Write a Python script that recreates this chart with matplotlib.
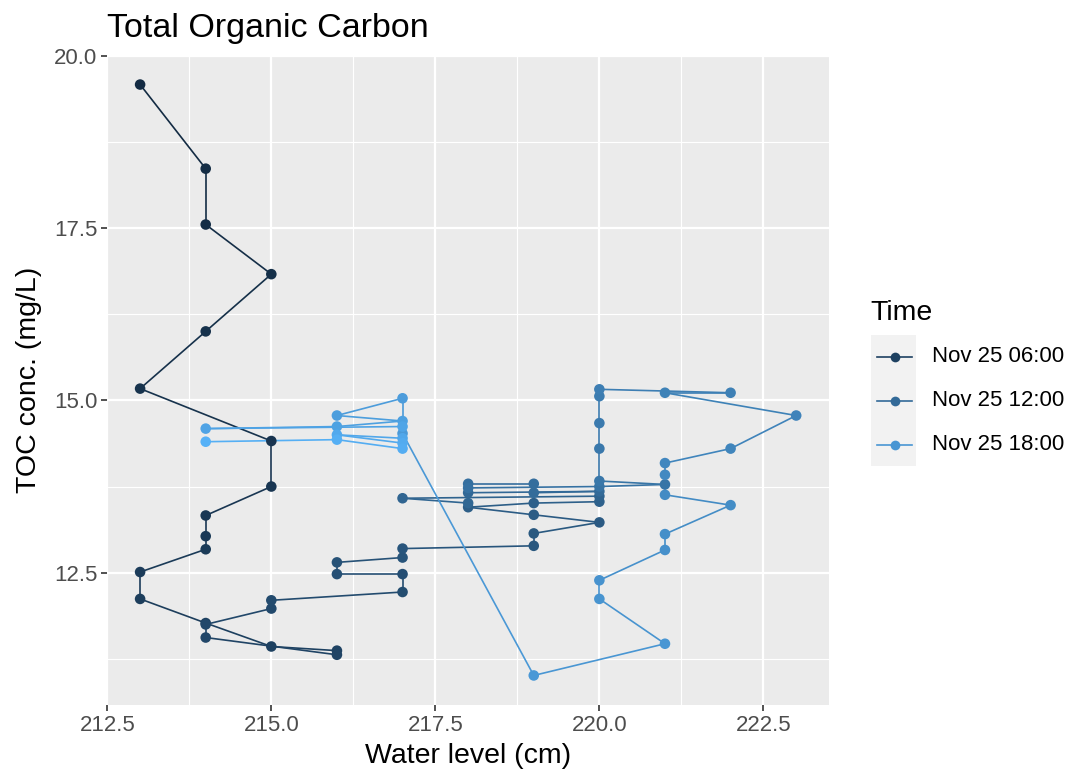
import numpy as np
import matplotlib
matplotlib.use("Agg")
import matplotlib.pyplot as plt
from matplotlib.collections import LineCollection
from matplotlib.lines import Line2D
from matplotlib.patches import Rectangle

plt.rcParams['font.family'] = ['Liberation Sans', 'DejaVu Sans']

# ---------------- data (in time order) ----------------
water_level = [213, 214, 214, 215, 214, 213, 215, 215, 214, 214,
               214, 213, 213, 214, 215, 216, 216, 214, 214, 215,
               215, 217, 217, 216, 216, 217, 217, 219, 219, 220,
               219, 218, 219, 220, 220, 217, 218, 218, 220, 219,
               219, 218, 218, 220, 221, 220, 220, 220, 220, 220,
               222, 221, 223, 222, 221, 221, 221, 222, 221, 221,
               220, 220, 221, 219, 217, 217, 216, 217, 216, 214,
               217, 217, 216, 217, 217, 216, 214]
toc = [19.58, 18.36, 17.55, 16.83, 16.00, 15.17, 14.41, 13.75, 13.33, 13.03,
       12.84, 12.51, 12.12, 11.77, 11.43, 11.37, 11.31, 11.56, 11.75, 11.98,
       12.10, 12.22, 12.48, 12.48, 12.65, 12.72, 12.85, 12.89, 13.07, 13.23,
       13.34, 13.45, 13.51, 13.53, 13.61, 13.58, 13.51, 13.66, 13.68, 13.66,
       13.79, 13.79, 13.73, 13.75, 13.78, 13.83, 14.30, 14.67, 15.06, 15.16,
       15.11, 15.11, 14.78, 14.30, 14.09, 13.92, 13.63, 13.48, 13.06, 12.83,
       12.39, 12.12, 11.47, 11.01, 14.52, 15.03, 14.78, 14.70, 14.62, 14.59,
       14.62, 14.45, 14.50, 14.38, 14.30, 14.43, 14.40]
times = ["02:30", "02:45", "03:00", "03:15", "03:30", "03:45", "04:00", "04:15",
         "04:30", "04:45", "05:00", "05:15", "05:30", "05:45", "06:00", "06:15",
         "06:30", "06:45", "07:00", "07:15", "07:30", "07:45", "08:00", "08:15",
         "08:30", "08:45", "09:00", "09:15", "09:30", "09:45", "10:00", "10:15",
         "10:30", "10:45", "11:00", "11:15", "11:30", "11:45", "12:00", "12:15",
         "12:30", "12:45", "13:00", "13:15", "13:30", "13:45", "14:00", "14:15",
         "14:30", "14:45", "15:00", "15:15", "15:30", "15:45", "16:00", "16:15",
         "16:30", "16:45", "17:00", "17:15", "17:30", "17:45", "18:00", "18:15",
         "18:30", "18:45", "19:00", "19:15", "19:30", "19:45", "20:00", "20:15",
         "20:30", "20:45", "21:00", "21:15", "21:30"]
legend_times = ["06:00", "12:00", "18:00"]
legend_labels = ["Nov 25 06:00", "Nov 25 12:00", "Nov 25 18:00"]
x_ticks = [212.5, 215.0, 217.5, 220.0, 222.5]
y_ticks = [12.5, 15.0, 17.5, 20.0]

# ---------------- ggplot-like continuous colour scale (Lab) ----------------
LOW, HIGH = "#132B43", "#56B1F7"
M = np.array([[0.4124, 0.3576, 0.1805],
              [0.2126, 0.7152, 0.0722],
              [0.0193, 0.1192, 0.9505]])
Minv = np.linalg.inv(M)
WHITE = M @ np.ones(3)
D = 6 / 29


def _f(t):
    return np.where(t > D ** 3, np.cbrt(t), t / (3 * D * D) + 4 / 29)


def _finv(t):
    return np.where(t > D, t ** 3, 3 * D * D * (t - 4 / 29))


def hex_to_lab(h):
    c = np.array([int(h[i:i + 2], 16) for i in (1, 3, 5)]) / 255
    lin = np.where(c <= 0.04045, c / 12.92, ((c + 0.055) / 1.055) ** 2.4)
    xyz = (M @ lin) / WHITE
    fx_, fy_, fz_ = _f(xyz)
    return np.array([116 * fy_ - 16, 500 * (fx_ - fy_), 200 * (fy_ - fz_)])


def lab_to_rgb(lab):
    L, a, b = lab
    fy_ = (L + 16) / 116
    xyz = _finv(np.array([fy_ + a / 500, fy_, fy_ - b / 200])) * WHITE
    lin = np.clip(Minv @ xyz, 0, 1)
    c = np.where(lin <= 0.0031308, 12.92 * lin, 1.055 * lin ** (1 / 2.4) - 0.055)
    return tuple(np.clip(c, 0, 1))


LAB_LO, LAB_HI = hex_to_lab(LOW), hex_to_lab(HIGH)


def to_minutes(s):
    h, m = s.split(":")
    return int(h) * 60 + int(m)


tmin_all = np.array([to_minutes(t) for t in times], dtype=float)
t0, t1 = tmin_all.min(), tmin_all.max()


def colour_for(minutes):
    u = (minutes - t0) / (t1 - t0)
    return lab_to_rgb(LAB_LO + u * (LAB_HI - LAB_LO))


point_colours = [colour_for(m) for m in tmin_all]

# ---------------- figure ----------------
W, H = 1073, 780
fig = plt.figure(figsize=(W / 100, H / 100), dpi=100)
ax = fig.add_axes([107.3 / W, 1 - 705 / H, (829 - 107.3) / W, 650 / H])
ax.set_facecolor("#EBEBEB")
for s in ax.spines.values():
    s.set_visible(False)

xs = np.array(water_level, dtype=float)
ys = np.array(toc, dtype=float)
segs = [[(xs[i], ys[i]), (xs[i + 1], ys[i + 1])] for i in range(len(xs) - 1)]
lc = LineCollection(segs, colors=point_colours[:-1], linewidths=1.2,
                    capstyle="butt", zorder=3)
ax.add_collection(lc)
ax.scatter(xs, ys, s=58, c=point_colours, linewidths=0, zorder=4)
ax.margins(0.05)
ax.autoscale_view()
xlim = ax.get_xlim()
ylim = ax.get_ylim()

ax.set_xticks(x_ticks)
ax.set_xticklabels([f"{v:.1f}" for v in x_ticks])
ax.set_yticks(y_ticks)
ax.set_yticklabels([f"{v:.1f}" for v in y_ticks])
ax.set_xticks([(a + b) / 2 for a, b in zip(x_ticks[:-1], x_ticks[1:])] + [x_ticks[-1] + 1.25], minor=True)
ax.set_yticks([y_ticks[0] - 1.25] + [(a + b) / 2 for a, b in zip(y_ticks[:-1], y_ticks[1:])], minor=True)
ax.set_xlim(xlim)
ax.set_ylim(ylim)
ax.grid(which="major", color="white", linewidth=1.6)
ax.grid(which="minor", color="white", linewidth=0.8)
ax.set_axisbelow(True)
ax.tick_params(which="major", length=4, width=1.2, color="#333333",
               labelsize=16, labelcolor="#4D4D4D", pad=3)
ax.tick_params(which="minor", length=0)

ax.set_xlabel("Water level (cm)", fontsize=20.5, color="black", labelpad=5)
ax.set_ylabel("TOC conc. (mg/L)", fontsize=20.5, color="black", labelpad=9)
ax.set_title("Total Organic Carbon", loc="left", fontsize=24.5, color="black", pad=13)

# ---------------- legend (ggplot style) ----------------
def fx(px):
    return px / W


def fy(py):
    return 1 - py / H


fig.text(fx(870), fy(320), "Time", fontsize=20.5, ha="left", va="baseline")
fig.patches.append(Rectangle((fx(871), fy(466)), fx(916) - fx(871), fy(335) - fy(466),
                             transform=fig.transFigure, facecolor="#F2F2F2",
                             edgecolor="none", zorder=1))
key_y = [357, 401, 445]
for lt, lab, ky in zip(legend_times, legend_labels, key_y):
    col = colour_for(to_minutes(lt))
    fig.lines.append(Line2D([fx(877), fx(912)], [fy(ky), fy(ky)], transform=fig.transFigure,
                            color=col, linewidth=1.2, zorder=2))
    fig.lines.append(Line2D([fx(894.5)], [fy(ky)], transform=fig.transFigure, color=col,
                            marker="o", markersize=7, markeredgewidth=0, linestyle="none", zorder=3))
    fig.text(fx(932), fy(ky), lab, fontsize=16, ha="left", va="center", color="black")

fig.savefig("out.png", dpi=100)
